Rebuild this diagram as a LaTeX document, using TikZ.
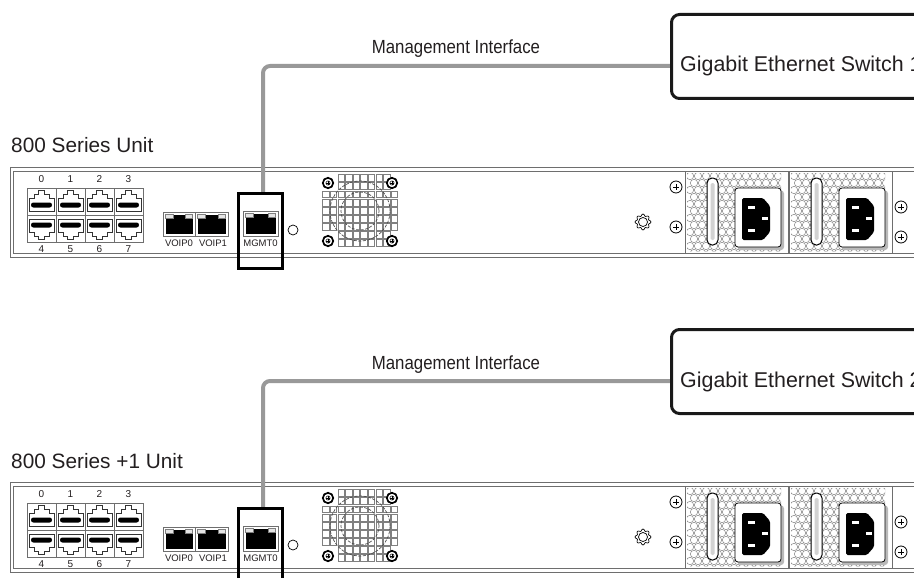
\documentclass[tikz,border=0pt]{standalone}
\usepackage{fontspec}
\setmainfont{Liberation Sans}
\definecolor{txt}{HTML}{231F20}
\definecolor{cablegray}{HTML}{999999}
\definecolor{framegray}{HTML}{6E6E6E}
\definecolor{hexgray}{HTML}{8A8A8A}
\tikzset{
  cable/.style={draw=cablegray, line width=4pt, rounded corners=7pt},
  hlbox/.style={draw=black, line width=3pt},
  unitframe/.style={draw=framegray, line width=0.9pt},
  portcell/.style={draw=framegray, line width=0.6pt},
  portline/.style={draw=black!80, line width=0.7pt},
  smalltxt/.style={font=\fontsize{9.5}{10}\selectfont, text=txt, inner sep=0pt},
  bigtxt/.style={font=\fontsize{20.8}{24}\selectfont, text=txt, inner sep=0pt},
  hexcell/.style={draw=hexgray, line width=0.5pt},
  fancell/.style={draw=gray, line width=0.5pt},
  fanring/.style={draw=black!70, line width=0.7pt, dash pattern=on 3pt off 1.5pt},
  switchbox/.style={draw=black!90, line width=3pt, rounded corners=8pt, fill=white},
}
\newcommand\plusscrew[2]{%
  \draw[line width=0.8pt, fill=white] (#1,#2) circle[radius=6pt];
  \draw[line width=0.9pt] (#1-3,#2) -- (#1+3,#2) (#1,#2-3) -- (#1,#2+3);}
\newcommand\psudraw[1]{%
\begin{scope}[shift={(#1,0)}]
  \draw[portcell] (685,171) rectangle (788,253);
  \begin{scope}
    \clip (687,173) rectangle (781,251);
    \foreach \r in {0,...,11} {\foreach \c in {0,...,12} {
      \draw[hexcell] ({690+8*\c+4*mod(\r,2)},{176+7*\r}) circle[radius=3.7pt];}}
  \end{scope}
  % handle
  \draw[line width=1pt, fill=white, rounded corners=5pt] (707,178) rectangle (718,245);
  \fill[gray!35, rounded corners=1.5pt] (710.5,183) rectangle (714.5,240);
  % socket
  \fill[gray!55, rounded corners=3pt] (737.5,190.5) rectangle (784,250);
  \draw[line width=0.8pt, fill=white, rounded corners=3pt] (735,188) rectangle (781,247);
  \fill[black, rounded corners=1.5pt] (742,198) -- (763,198) -- (770,206) -- (770,232) -- (763,240) -- (742,240) -- cycle;
  \fill[white] (748,205.5) rectangle (755,208.5);
  \fill[white] (748,229) rectangle (755,232);
  \fill[white] (762,217) rectangle (768,220);
\end{scope}}
\newcommand\rjport[4]{% x0, y0, width, height
  \draw[portcell] (#1,#2) rectangle (#1+#3,#2+#4);
  \fill[black] (#1+2.5,#2+6) rectangle (#1+#3-2.5,#2+#4-2.5);
  \fill[black] (#1+10,#2+2.5) rectangle (#1+#3-10,#2+6);
  \draw[fill=gray!20, line width=0.4pt, draw=gray] (#1+2.5,#2+2.5) rectangle (#1+10,#2+6);
  \draw[fill=gray!20, line width=0.4pt, draw=gray] (#1+#3-10,#2+2.5) rectangle (#1+#3-2.5,#2+6);}
\newcommand\unitdraw[3]{% #1 y offset, #2 suffix, #3 label
\begin{scope}[shift={(0,#1)}]
  % labels
  \node[bigtxt, anchor=base west] (unit#2) at (11,153) {#3};
  \node[bigtxt, font=\fontsize{19}{22}\selectfont, anchor=base, xscale=0.885, transform shape] (mgmtlbl#2) at (456,54) {Management Interface};
  % frame
  \draw[unitframe] (10,167) rectangle (940,257);
  \draw[unitframe, line width=0.7pt] (13,171) rectangle (940,253);
  % 8 port block
  \draw[portcell] (27,188) rectangle (143,242);
  \foreach \i in {0,...,3} {
    \pgfmathsetmacro\xo{27+29*\i}
    \draw[portcell] (\xo,188) rectangle (\xo+29,215);
    \draw[portcell] (\xo,215) rectangle (\xo+29,242);
    \draw[portline] (\xo+2,211) -- (\xo+2,198) -- (\xo+7,198) -- (\xo+7,194) -- (\xo+11.5,194) -- (\xo+11.5,190.5)
       -- (\xo+17.5,190.5) -- (\xo+17.5,194) -- (\xo+22,194) -- (\xo+22,198) -- (\xo+27,198) -- (\xo+27,211) -- cycle;
    \fill[black, rounded corners=2.4pt] (\xo+4,202.5) rectangle (\xo+25,207.5);
    \draw[portline] (\xo+2,219) -- (\xo+2,232) -- (\xo+7,232) -- (\xo+7,236) -- (\xo+11.5,236) -- (\xo+11.5,239.5)
       -- (\xo+17.5,239.5) -- (\xo+17.5,236) -- (\xo+22,236) -- (\xo+22,232) -- (\xo+27,232) -- (\xo+27,219) -- cycle;
    \fill[black, rounded corners=2.4pt] (\xo+4,222.5) rectangle (\xo+25,227.5);
    \pgfmathtruncatemacro\lo{\i+4}
    \node[smalltxt, font=\fontsize{10}{11}\selectfont] (pt\i#2) at (\xo+14.5,179) {\i};
    \node[smalltxt, font=\fontsize{10}{11}\selectfont] (pb\i#2) at (\xo+14.5,249.5) {\lo};
  }
  % VOIP ports
  \rjport{163}{212}{32}{24}
  \rjport{195}{212}{33}{24}
  \node[smalltxt] (voip0#2) at (179,243.5) {VOIP0};
  \node[smalltxt] (voip1#2) at (213,243.5) {VOIP1};
  % MGMT port
  \rjport{243}{211}{35}{25}
  \node[smalltxt] (mgmt0#2) at (260.5,243.5) {MGMT0};
  \draw[line width=0.7pt] (293,230) circle[radius=5pt];
  % fan
  \foreach \c in {0,...,9} {\foreach \r in {0,...,8} {
    \pgfmathtruncatemacro\skipit{((\c<2) || (\c>8)) && ((\r<2) || (\r>6))}
    \ifnum\skipit=0
      \draw[fancell] ({322+7.6*\c+0.6},{174+8.1*\r+0.6}) rectangle ++(6.4,6.9);
    \fi}}
  \draw[fanring] (360,211) circle[radius=30pt];
  \draw[fanring] (360,211) circle[radius=19pt];
  \foreach \p in {(328,183),(392,183),(328,241),(392,241)} {
    \draw[fill=white, line width=1.7pt] \p circle[radius=5.2pt];
    \draw[line width=0.5pt] \p circle[radius=2.1pt];
    \draw[line width=0.5pt] \p ++(-1.8,0) -- ++(3.6,0);
    \draw[line width=0.5pt] \p ++(0,-1.8) -- ++(0,3.6);
  }
  % gear
  \draw[line width=0.7pt] plot[domain=0:357, samples=120, smooth cycle]
    ({643+(7+0.9*cos(8*\x))*cos(\x)}, {222+(7+0.9*cos(8*\x))*sin(\x)});
  \draw[line width=0.7pt] (643,222) circle[radius=4.5pt];
  % screws
  \plusscrew{676}{187}
  \plusscrew{676}{227}
  \plusscrew{901}{207}
  \plusscrew{901}{237}
  % PSUs
  \psudraw{0}
  \psudraw{104}
  % switch
  \coordinate (mgmttop#2) at (263,193);
  \coordinate (swin#2) at (670,66);
  \draw[cable] (mgmttop#2) |- (swin#2);
  \node[switchbox, minimum width=290pt, minimum height=84pt, anchor=north west] (sw#2) at (670,13) {};
  \node[bigtxt, font=\fontsize{21.4}{24}\selectfont, anchor=base west] (swtxt#2) at (680,72) {Gigabit Ethernet Switch #2};
  % MGMT highlight
  \draw[hlbox] (238,193) rectangle (282,268);
\end{scope}}
\begin{document}
\begin{tikzpicture}[x=1pt, y=-1pt]
  \useasboundingbox[fill=white] (0,0) rectangle (914,578);
  \unitdraw{0}{1}{800 Series Unit}
  \unitdraw{315}{2}{800 Series +1 Unit}
\end{tikzpicture}
\end{document}
